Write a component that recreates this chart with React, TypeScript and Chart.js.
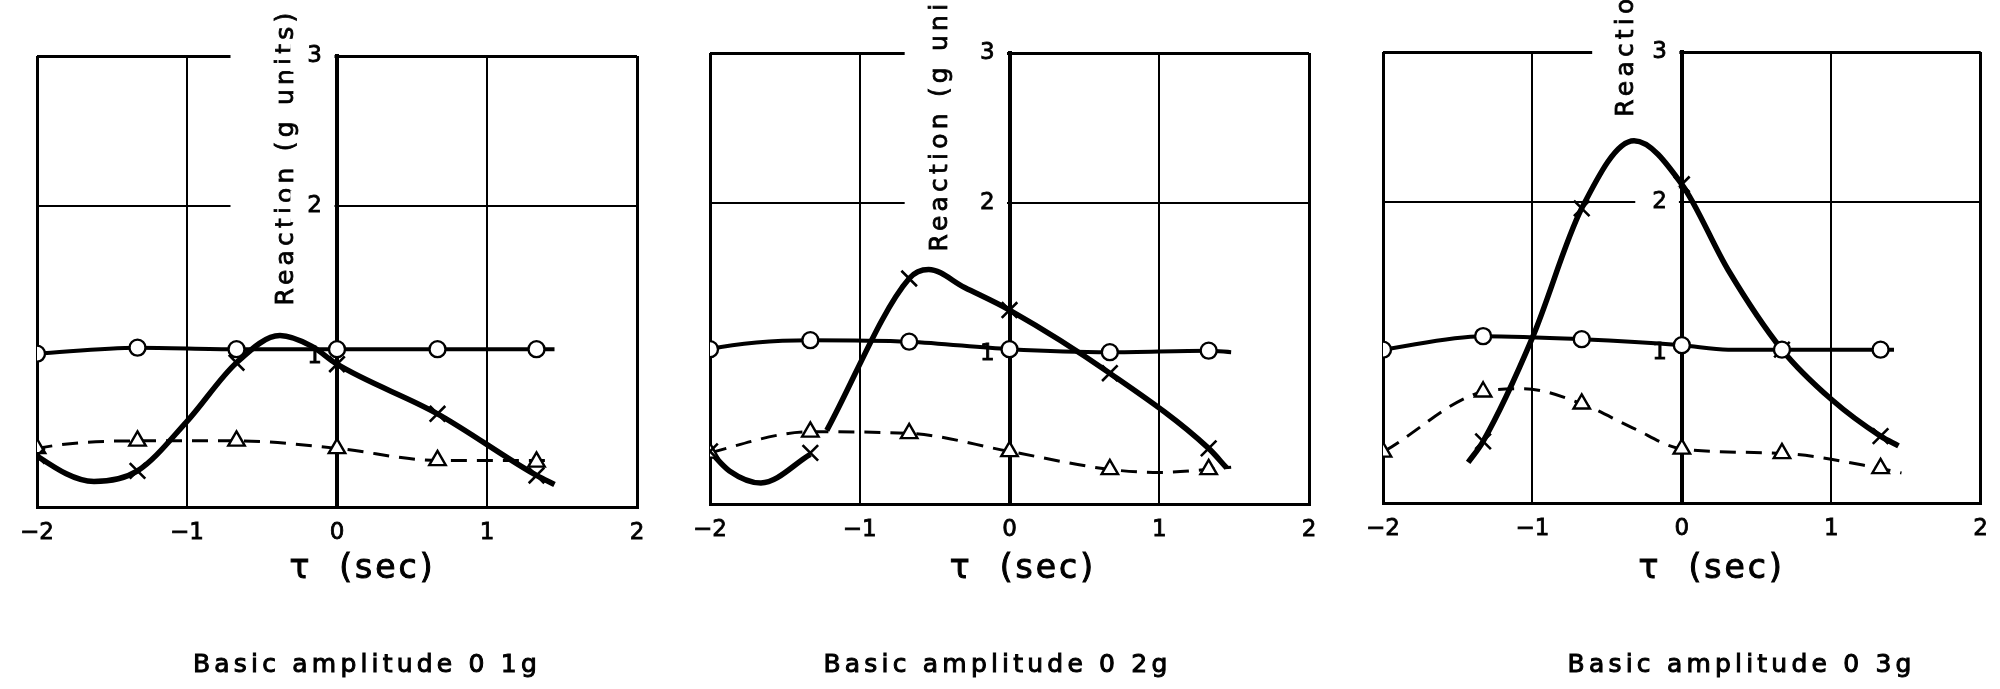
import React, { useEffect, useRef } from 'react';
import { Chart, registerables } from 'chart.js';

Chart.register(...registerables);

// ---------- data ----------
const tauPoints = [-2, -1.33, -0.67, 0, 0.67, 1.33];
const xTickValues = [-2, -1, 0, 1, 2];
const xTickLabels = ['−2', '−1', '0', '1', '2'];
const yTickLabels = ['', '1', '2', '3'];
const xAxisTitle = 'τ  (sec)';
const yAxisTitle = 'Reaction (g units)';
const panelCaptions = ['Basic amplitude 0 1g', 'Basic amplitude 0 2g', 'Basic amplitude 0 3g'];

// Panel 1 (0.1 g)
const p1CircleY = [1.02, 1.06, 1.05, 1.05, 1.05, 1.05];
const p1CircleLineX = [-2.16, -2, -1.33, -0.67, 0, 0.67, 1.33, 1.45];
const p1CircleLineY = [1.01, 1.02, 1.06, 1.05, 1.05, 1.05, 1.05, 1.05];
const p1CrossTau = [-2, -1.33, -0.67, 0, 0.67, 1.33];
const p1CrossY = [0.34, 0.24, 0.96, 0.95, 0.62, 0.21];
const p1CrossLineX = [-2.08, -2, -1.62, -1.33, -1.0, -0.67, -0.38, -0.17, 0, 0.67, 1.33, 1.45];
const p1CrossLineY = [0.41, 0.34, 0.17, 0.24, 0.57, 0.96, 1.14, 1.07, 0.95, 0.62, 0.21, 0.15];
const p1TriY = [0.39, 0.44, 0.44, 0.39, 0.31, 0.3];
const p1TriLineX = [-2.17, -2, -1.33, -0.67, 0, 0.67, 1.33, 1.45];
const p1TriLineY = [0.34, 0.39, 0.44, 0.44, 0.39, 0.31, 0.31, 0.31];

// Panel 2 (0.2 g)
const p2CircleY = [1.03, 1.09, 1.08, 1.03, 1.01, 1.02];
const p2CircleLineX = [-2.12, -2, -1.33, -0.67, 0, 0.67, 1.33, 1.48];
const p2CircleLineY = [0.99, 1.03, 1.09, 1.08, 1.03, 1.01, 1.02, 1.01];
const p2CrossTau = [-2, -1.33, -0.67, 0, 0.67, 1.33];
const p2CrossY = [0.35, 0.34, 1.5, 1.29, 0.87, 0.37];
const p2CrossLineX = [-2, -1.87, -1.66, -1.33, -1.28, -1.22, -0.67, -0.54, -0.3, 0, 0.67, 1.33, 1.45];
const p2CrossLineY = [0.35, 0.22, 0.14, 0.33, null, 0.49, 1.5, 1.56, 1.44, 1.29, 0.87, 0.37, 0.24];
const p2TriY = [0.34, 0.48, 0.47, 0.35, 0.23, 0.23];
const p2TriLineX = [-2.16, -2, -1.33, -0.67, 0, 0.67, 1.0, 1.33, 1.48];
const p2TriLineY = [0.29, 0.34, 0.48, 0.47, 0.35, 0.23, 0.21, 0.23, 0.245];

// Panel 3 (0.3 g)
const p3CircleY = [1.02, 1.11, 1.09, 1.05, 1.02, 1.02];
const p3CircleLineX = [-2.14, -2, -1.33, -0.67, 0, 0.31, 0.67, 1.33, 1.42];
const p3CircleLineY = [1.0, 1.02, 1.11, 1.09, 1.05, 1.02, 1.02, 1.02, 1.02];
const p3CrossTau = [-1.33, -0.67, 0, 0.67, 1.33];
const p3CrossY = [0.41, 1.96, 2.12, 1.02, 0.445];
const p3CrossLineX = [-1.43, -1.33, -1.0, -0.67, -0.32, 0, 0.31, 0.67, 1.0, 1.33, 1.45];
const p3CrossLineY = [0.27, 0.41, 1.1, 1.96, 2.41, 2.12, 1.55, 1.02, 0.69, 0.445, 0.38];
const p3TriY = [0.34, 0.74, 0.66, 0.36, 0.33, 0.23];
const p3TriLineX = [-2.14, -2, -1.33, -1.06, -0.67, -0.33, 0, 0.67, 1.33, 1.47];
const p3TriLineY = [0.27, 0.34, 0.74, 0.76, 0.66, 0.5, 0.36, 0.33, 0.23, 0.2];

const panelData = [
  { circleY: p1CircleY, circleLineX: p1CircleLineX, circleLineY: p1CircleLineY, crossTau: p1CrossTau, crossY: p1CrossY, crossLineX: p1CrossLineX, crossLineY: p1CrossLineY, triY: p1TriY, triLineX: p1TriLineX, triLineY: p1TriLineY, caption: panelCaptions[0] },
  { circleY: p2CircleY, circleLineX: p2CircleLineX, circleLineY: p2CircleLineY, crossTau: p2CrossTau, crossY: p2CrossY, crossLineX: p2CrossLineX, crossLineY: p2CrossLineY, triY: p2TriY, triLineX: p2TriLineX, triLineY: p2TriLineY, caption: panelCaptions[1] },
  { circleY: p3CircleY, circleLineX: p3CircleLineX, circleLineY: p3CircleLineY, crossTau: p3CrossTau, crossY: p3CrossY, crossLineX: p3CrossLineX, crossLineY: p3CrossLineY, triY: p3TriY, triLineX: p3TriLineX, triLineY: p3TriLineY, caption: panelCaptions[2] },
];

// ---------- layout (positions / sizes only) ----------
const panelLayout = [
  { left: 0, width: 700, pad: { left: 37, right: 63, top: 56, bottom: 0 }, axisBand: 182, boxLeft: -0.71, titleX: -0.335, titleBottom: 1.34, xTitleX: 0.17, captionX: 0.2 },
  { left: 660, width: 700, pad: { left: 50, right: 51, top: 53, bottom: 0 }, axisBand: 185, boxLeft: -0.70, titleX: -0.46, titleBottom: 1.68, xTitleX: 0.09, captionX: -0.08 },
  { left: 1330, width: 670, pad: { left: 53, right: 17, top: 52, bottom: 0 }, axisBand: 186, boxLeft: -0.6, titleX: -0.37, titleBottom: 2.57, xTitleX: 0.2, captionX: 0.4 },
];
const labelAxisAt = -0.1;

const FONT = '"DejaVu Sans", sans-serif';
const CANVAS_H = 689;

function heavyText(ctx: any, text: string, x: number, y: number, w: number) {
  ctx.fillText(text, x, y);
  ctx.lineWidth = w;
  ctx.strokeStyle = '#000';
  ctx.strokeText(text, x, y);
}

const panelTextPlugin = {
  id: 'panelText',
  beforeDatasetsDraw(chart: any, _args: any, opts: any) {
    const { ctx } = chart;
    const xs = chart.scales.x;
    const ys = chart.scales.y;
    const ax = xs.getPixelForValue(0);
    const boxLeft = xs.getPixelForValue(opts.boxLeft);
    const bottom = ys.getPixelForValue(opts.titleBottom);
    ctx.save();
    ctx.fillStyle = '#ffffff';
    ctx.fillRect(boxLeft, 0, ax - 2.5 - boxLeft, bottom + 4);
    ctx.translate(xs.getPixelForValue(opts.titleX), bottom);
    ctx.rotate(-Math.PI / 2);
    ctx.font = `25px ${FONT}`;
    ctx.letterSpacing = '4.2px';
    ctx.textAlign = 'left';
    ctx.textBaseline = 'middle';
    ctx.fillStyle = '#000';
    heavyText(ctx, yAxisTitle, 0, 0, 0.8);
    ctx.restore();
  },
  afterDraw(chart: any, _args: any, opts: any) {
    const { ctx } = chart;
    const xs = chart.scales.x;
    ctx.save();
    ctx.fillStyle = '#000';
    ctx.textAlign = 'center';
    ctx.textBaseline = 'alphabetic';
    ctx.font = `33px ${FONT}`;
    ctx.letterSpacing = '3px';
    heavyText(ctx, xAxisTitle, xs.getPixelForValue(opts.xTitleX), 578, 1);
    ctx.font = `25px ${FONT}`;
    ctx.letterSpacing = '4.2px';
    heavyText(ctx, opts.caption, xs.getPixelForValue(opts.captionX), 672, 1);
    ctx.restore();
  },
};

function pts(xs: number[], ys: (number | null)[]) {
  return xs.map((x, i) => ({ x, y: ys[i] }));
}

function Panel({ idx }: { idx: number }) {
  const ref = useRef<HTMLCanvasElement | null>(null);
  const d = panelData[idx];
  const L = panelLayout[idx];
  useEffect(() => {
    if (!ref.current) return;
    const chart = new Chart(ref.current, {
      type: 'scatter',
      data: {
        datasets: [
          { label: 'circles', yAxisID: 'y', data: pts(tauPoints, d.circleY), showLine: false, pointStyle: 'circle', pointRadius: 8, pointBackgroundColor: '#fff', pointBorderColor: '#000', pointBorderWidth: 2.4 },
          { label: 'crosses', yAxisID: 'y', data: pts(d.crossTau, d.crossY), showLine: false, pointStyle: 'crossRot', pointRadius: 11, pointBorderColor: '#000', pointBorderWidth: 2.6 },
          { label: 'triangles', yAxisID: 'y', data: pts(tauPoints, d.triY), showLine: false, pointStyle: 'triangle', pointRadius: 9.5, pointBackgroundColor: '#fff', pointBorderColor: '#000', pointBorderWidth: 2.4 },
          { label: 'circle curve', yAxisID: 'y', data: pts(d.circleLineX, d.circleLineY), showLine: true, pointRadius: 0, borderColor: '#000', borderWidth: 4, cubicInterpolationMode: 'monotone' },
          { label: 'cross curve', yAxisID: 'y', data: pts(d.crossLineX, d.crossLineY), showLine: true, pointRadius: 0, borderColor: '#000', borderWidth: 5.5, cubicInterpolationMode: 'monotone', spanGaps: false },
          { label: 'triangle curve', yAxisID: 'y', data: pts(d.triLineX, d.triLineY), showLine: true, pointRadius: 0, borderColor: '#000', borderWidth: 3, borderDash: [16, 10], cubicInterpolationMode: 'monotone' },
        ] as any,
      },
      options: {
        animation: false,
        responsive: false,
        events: [],
        layout: { padding: L.pad },
        font: { family: FONT },
        plugins: {
          legend: { display: false },
          tooltip: { enabled: false },
          panelText: {
            boxLeft: L.boxLeft, titleX: L.titleX, titleBottom: L.titleBottom,
            xTitleX: L.xTitleX, captionX: L.captionX, caption: d.caption,
          },
        } as any,
        scales: {
          x: {
            type: 'linear',
            position: 'bottom',
            min: -2,
            max: 2,
            afterFit: (s: any) => { s.height = L.axisBand; },
            ticks: {
              stepSize: 1,
              padding: 12,
              color: '#000',
              textStrokeColor: '#000',
              textStrokeWidth: 0.8,
              font: { family: FONT, size: 23 },
              callback: (v: any) => xTickLabels[xTickValues.indexOf(Number(v))] ?? '',
            },
            grid: {
              drawTicks: false,
              color: (c: any) => (c.tick && c.tick.value === 0 ? 'rgba(0,0,0,0)' : '#000'),
              lineWidth: (c: any) => (c.tick && Math.abs(c.tick.value) === 2 ? 3 : 2),
            },
            border: { display: true, color: '#000', width: 3 },
          },
          y: {
            type: 'linear',
            position: { x: 0 } as any,
            min: 0,
            max: 3,
            ticks: { stepSize: 1, display: false },
            grid: {
              drawTicks: false,
              color: (c: any) => (c.tick && (c.tick.value === 2 || c.tick.value === 3) ? '#000' : 'rgba(0,0,0,0)'),
              lineWidth: (c: any) => (c.tick && c.tick.value === 3 ? 3 : 2),
            },
            border: { display: true, color: '#000', width: 4 },
          },
          yLab: {
            type: 'linear',
            axis: 'y',
            position: { x: labelAxisAt } as any,
            min: 0,
            max: 3,
            grid: { display: false, drawTicks: false },
            border: { display: false },
            ticks: {
              stepSize: 1,
              z: 1,
              color: '#000',
              textStrokeColor: '#000',
              textStrokeWidth: 0.8,
              font: { family: FONT, size: 23 },
              callback: (v: any) => yTickLabels[Number(v)] ?? '',
              showLabelBackdrop: (c: any) => c.tick && c.tick.value >= 2,
              backdropColor: '#ffffff',
              backdropPadding: { top: 2, bottom: 2, left: 17, right: 12 },
            } as any,
          },
        },
      } as any,
      plugins: [panelTextPlugin as any],
    });
    return () => chart.destroy();
  }, [idx]);
  return (
    <canvas
      ref={ref}
      width={L.width}
      height={CANVAS_H}
      style={{ position: 'absolute', left: L.left, top: 0, width: L.width, height: CANVAS_H }}
    />
  );
}

export default function App() {
  return (
    <div style={{ position: 'absolute', left: 0, top: 0, width: 2000, height: CANVAS_H, background: '#fff', overflow: 'hidden' }}>
      <Panel idx={0} />
      <Panel idx={1} />
      <Panel idx={2} />
    </div>
  );
}
